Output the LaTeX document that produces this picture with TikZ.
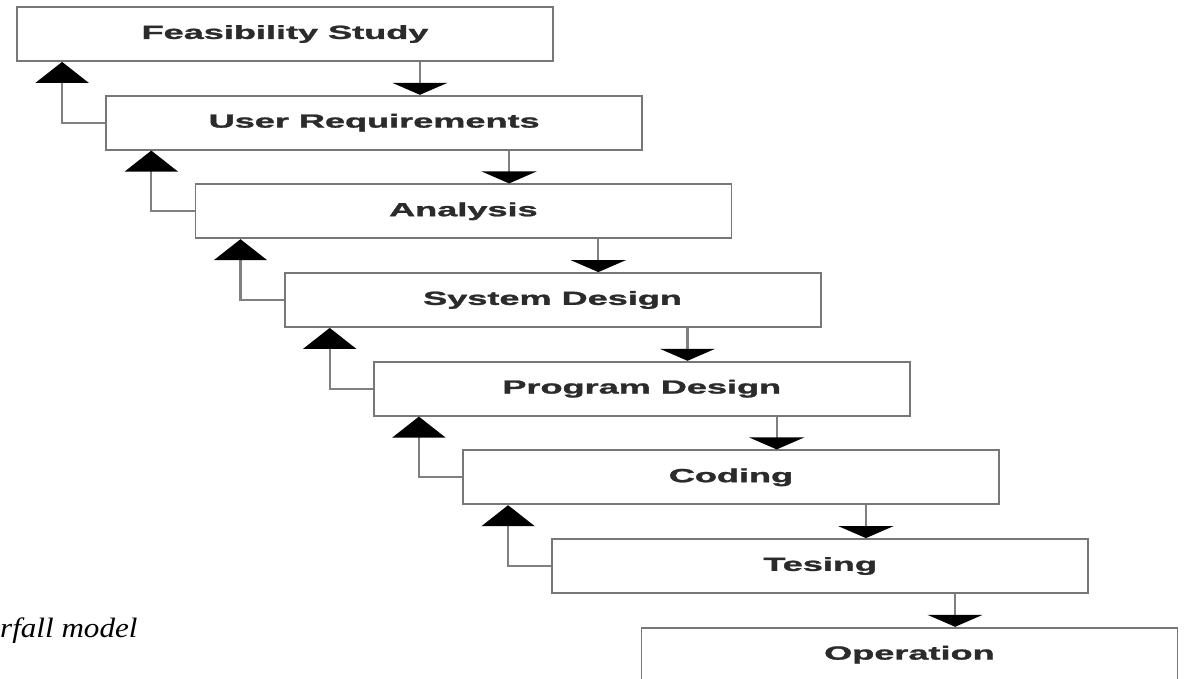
\documentclass[tikz,border=0pt]{standalone}
\usepackage{fontspec}
\setmainfont{Liberation Serif}
\newfontfamily\boxfont[FakeBold=1.2]{Liberation Sans Bold}
\usetikzlibrary{arrows.meta}
\definecolor{linegray}{HTML}{808080}
\definecolor{boxgray}{HTML}{777777}
\definecolor{textdark}{HTML}{2B2B2B}
\tikzset{
  stage/.style={draw=boxgray, line width=1.8pt, fill=white, minimum width=536pt, minimum height=54pt, inner sep=0pt,
    font=\boxfont\fontsize{19}{22}\selectfont, text=textdark},
  downconn/.style={draw=linegray, line width=2.2pt, -{Triangle[width=55pt,length=12pt,color=black]}},
  upconn/.style={draw=linegray, line width=2.2pt, -{Triangle[width=53pt,length=21pt,color=black]}},
}
\newcommand{\wide}[1]{\scalebox{1.9}[1]{#1}}
\begin{document}
\begin{tikzpicture}[x=1pt,y=-1pt]
\useasboundingbox (0,0) rectangle (1185,678);
\clip (0,0) rectangle (1185,678);
\node[stage] (b0) at (285.0, 34.0) {\wide{Feasibility Study}};
\node[stage] (b1) at (374.2, 122.7) {\wide{User Requirements}};
\node[stage] (b2) at (463.4, 211.3) {\wide{Analysis}};
\node[stage] (b3) at (552.6, 300.0) {\wide{System Design}};
\node[stage] (b4) at (641.8, 388.7) {\wide{Program Design}};
\node[stage] (b5) at (731.0, 477.3) {\wide{Coding}};
\node[stage] (b6) at (820.2, 566.0) {\wide{Tesing}};
\node[stage] (b7) at (909.4, 654.7) {\wide{Operation}};
\foreach \a/\b in {b0/b1,b1/b2,b2/b3,b3/b4,b4/b5,b5/b6,b6/b7}{
  \draw[downconn] ([xshift=-134pt]\a.south east) -- ([xshift=-134pt]\a.south east |- \b.north);
}
\foreach \a/\b in {b0/b1,b1/b2,b2/b3,b3/b4,b4/b5,b5/b6}{
  \draw[upconn] (\b.west) -| ([xshift=46pt]\a.south west);
}
\node[anchor=base west, inner sep=0pt, font=\itshape\fontsize{28}{30}\selectfont] (cap) at (0,637) {\scalebox{1.11}[1]{rfall model}};
\end{tikzpicture}
\end{document}
